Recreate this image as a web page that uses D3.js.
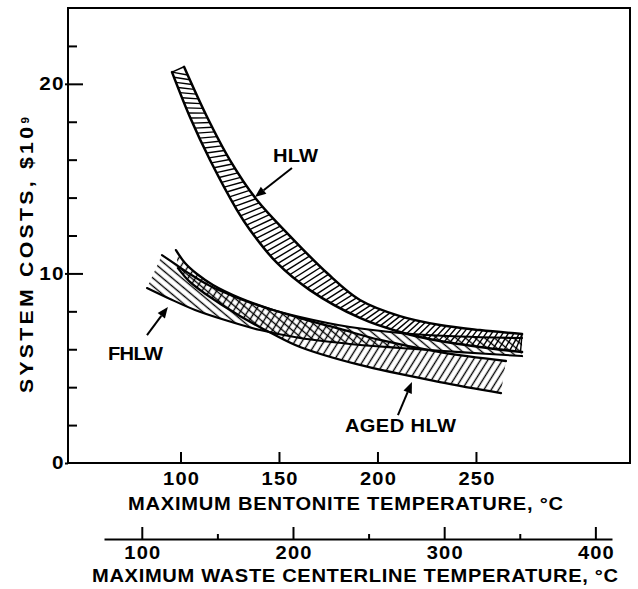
<!DOCTYPE html>
<html>
<head>
<meta charset="utf-8">
<script src="https://cdn.jsdelivr.net/npm/d3@7"></script>
<style>
  body { margin: 0; background: #fff; }
  svg { display: block; background: #fff; }
  text { font-family: "Liberation Sans", Arial, sans-serif; font-weight: bold; fill: #000; }
</style>
</head>
<body>
<svg id="chart" width="638" height="589"></svg>
<script>
// curves: bentonite temperature (°C) -> system cost ($10^9)
const hlwHighT = [101.8, 113.5, 125.1, 138.8, 155.6, 174.4, 191.1, 211.4, 231.7, 252.0, 273.4];
const hlwHigh  = [20.9, 18.25, 15.98, 13.87, 11.97, 10.02, 8.60, 7.75, 7.28, 7.01, 6.80];
const hlwLowT  = [95.7, 104.8, 115.0, 128.7, 135.3, 149.0, 165.7, 191.1, 211.4, 231.7, 252.0, 273.4];
const hlwLow   = [20.62, 18.25, 15.98, 13.34, 12.29, 10.55, 9.12, 7.65, 6.91, 6.43, 6.12, 5.85];

const fhlwHighT = [90.6, 97.2, 104.8, 115.0, 127.7, 145.4, 160.7, 186.0, 211.4, 241.9, 273.4];
const fhlwHigh  = [10.97, 10.50, 9.97, 9.34, 8.76, 8.12, 7.70, 7.17, 6.86, 6.67, 6.59];
const fhlwLowT  = [83.0, 94.7, 107.4, 122.6, 140.4, 160.7, 186.0, 211.4, 241.9, 273.4];
const fhlwLow   = [9.23, 8.65, 8.07, 7.54, 7.01, 6.59, 6.28, 6.07, 5.85, 5.64];

const agedHighT = [97.7, 102.3, 108.4, 116.5, 130.2, 147.0, 164.2, 181.0, 201.3, 231.7, 265.2];
const agedHigh  = [11.23, 10.55, 9.97, 9.39, 8.70, 8.07, 7.54, 7.07, 6.49, 5.85, 5.38];
const agedLowT  = [98.7, 104.8, 113.5, 130.2, 147.0, 160.7, 191.1, 231.7, 262.7];
const agedLow   = [10.28, 9.55, 8.86, 7.75, 6.80, 6.12, 5.17, 4.27, 3.69];

// axes
const yMajor = [0, 10, 20];
const yMinor = [2, 4, 6, 8, 12, 14, 16, 18, 22];
const xTicks = [100, 150, 200, 250];
const wasteMajor = [100, 200, 300, 400];
const wasteMinor = [150, 250, 350];

const yTitle = "SYSTEM COSTS, $10";
const xTitle = "MAXIMUM BENTONITE TEMPERATURE, °C";
const wasteTitle = "MAXIMUM WASTE CENTERLINE TEMPERATURE, °C";

const svg = d3.select("#chart");
const pLeft = 68, pRight = 630, pTop = 8, pBottom = 463;
const wide = 1.15;   // the original lettering is an extended face

const x = d3.scaleLinear().domain([42.9, 328.2]).range([pLeft, pRight]);
const y = d3.scaleLinear().domain([0, 24]).range([pBottom, pTop]);
const xWaste = d3.scaleLinear().domain([75, 411]).range([104, 612]);

const pts = (xs, ys) => xs.map((t, i) => [x(t), y(ys[i])]);
const line = d3.line().curve(d3.curveCatmullRom.alpha(0.5));

// hatch patterns
const defs = svg.append("defs");
function hatch(id, angle, gap) {
  defs.append("pattern")
    .attr("id", id)
    .attr("patternUnits", "userSpaceOnUse")
    .attr("width", gap).attr("height", gap)
    .attr("patternTransform", `rotate(${angle})`)
    .append("line")
    .attr("x1", gap / 2).attr("x2", gap / 2)
    .attr("y1", 0).attr("y2", gap)
    .attr("stroke", "#000").attr("stroke-width", 1.35);
}
hatch("hatchF", -50, 6.2);
hatch("hatchA", 32, 6.2);

const plot = svg.append("g");

function band(upper, lower, fill) {
  let d = line(upper) + line(lower.slice().reverse()).replace("M", "L") + "Z";
  plot.append("path").attr("d", d).attr("fill", fill).attr("stroke", "none");
}

const hlwU = pts(hlwHighT, hlwHigh), hlwL = pts(hlwLowT, hlwLow);
const fU = pts(fhlwHighT, fhlwHigh), fL = pts(fhlwLowT, fhlwLow);
const aU = pts(agedHighT, agedHigh), aL = pts(agedLowT, agedLow);

band(fU, fL, "url(#hatchF)");
band(aU, aL, "url(#hatchA)");

// HLW band uses ladder rungs between its two edges
const edges = plot.append("g");
const upPath = edges.append("path").attr("d", line(hlwU)).node();
const lowPath = edges.append("path").attr("d", line(hlwL)).node();
const Lu = upPath.getTotalLength(), Ll = lowPath.getTotalLength();
let rungs = [];
for (let s = 0; s <= Ll; s += 5.5) {
  let p1 = lowPath.getPointAtLength(s);
  let p2 = upPath.getPointAtLength(Math.min(Lu, s / Ll * Lu + 9));
  rungs.push([p1, p2]);
}
plot.selectAll(".rung").data(rungs).join("line")
  .attr("class", "rung")
  .attr("x1", d => d[0].x).attr("y1", d => d[0].y)
  .attr("x2", d => d[1].x).attr("y2", d => d[1].y)
  .attr("stroke", "#000").attr("stroke-width", 1.4);
plot.append("line")
  .attr("x1", hlwL[0][0]).attr("y1", hlwL[0][1])
  .attr("x2", hlwU[0][0]).attr("y2", hlwU[0][1])
  .attr("stroke", "#000").attr("stroke-width", 1.5);

// band edges
edges.selectAll("path").remove();
[[hlwU, 2.5], [hlwL, 2.5], [fU, 2.1], [fL, 2.1], [aU, 2.3], [aL, 2.3]].forEach(([p, w]) => {
  edges.append("path").attr("d", line(p))
    .attr("fill", "none").attr("stroke", "#000").attr("stroke-width", w)
    .attr("stroke-linecap", "round");
});
edges.raise();

// frame
svg.append("rect")
  .attr("x", pLeft).attr("y", pTop)
  .attr("width", pRight - pLeft).attr("height", pBottom - pTop)
  .attr("fill", "none").attr("stroke", "#000").attr("stroke-width", 2);

function styleAxis(g, size, ls) {
  g.attr("font-family", null).attr("font-size", null);
  g.selectAll("line").attr("stroke", "#000").attr("stroke-width", 2);
  g.selectAll("path").attr("stroke", "#000").attr("stroke-width", 2);
  g.selectAll("text").style("font-size", size + "px").attr("letter-spacing", ls)
    .attr("fill", "#000").attr("transform", `scale(${wide},1)`);
}

// y axis: labels outside, ticks inside
let yLab = svg.append("g").attr("transform", `translate(${pLeft},0)`)
  .call(d3.axisLeft(y).tickValues(yMajor).tickSize(3).tickPadding(1));
yLab.select(".domain").remove();
styleAxis(yLab, 18, 1);
yLab.selectAll("text").attr("dx", 1);

let yIn = svg.append("g").attr("transform", `translate(${pLeft},0)`)
  .call(d3.axisRight(y).tickValues([10, 20]).tickSize(15).tickFormat(""));
yIn.select(".domain").remove();
styleAxis(yIn, 10, 0);
let yIn2 = svg.append("g").attr("transform", `translate(${pLeft},0)`)
  .call(d3.axisRight(y).tickValues(yMinor).tickSize(9).tickFormat(""));
yIn2.select(".domain").remove();
styleAxis(yIn2, 10, 0);

// bentonite axis
let xAx = svg.append("g").attr("transform", `translate(0,${pBottom})`)
  .call(d3.axisBottom(x).tickValues(xTicks).tickSize(-11).tickPadding(10));
xAx.select(".domain").remove();
styleAxis(xAx, 17.5, 1);
xAx.selectAll("text").attr("dx", 0.5);

// waste centerline axis
const wy = 539;
let wAx = svg.append("g").attr("transform", `translate(0,${wy})`)
  .call(d3.axisBottom(xWaste).tickValues(wasteMajor).tickSize(-12).tickSizeOuter(0).tickPadding(8));
styleAxis(wAx, 17.5, 1);
wAx.selectAll("text").attr("dx", 0.5);
let wMin = svg.append("g").attr("transform", `translate(0,${wy})`)
  .call(d3.axisBottom(xWaste).tickValues(wasteMinor).tickSize(-5).tickFormat(""));
wMin.select(".domain").remove();
styleAxis(wMin, 10, 0);

// titles
function title(tx, ty, rot, len, size, str) {
  svg.append("text")
    .attr("transform", `translate(${tx},${ty}) rotate(${rot}) scale(${wide},1)`)
    .attr("textLength", len / wide).attr("lengthAdjust", "spacing")
    .style("font-size", size + "px").text(str);
}
title(128, 510, 0, 435, 17.5, xTitle);
title(92, 582, 0, 526, 17.5, wasteTitle);
title(33, 393, -90, 266, 18.5, yTitle);
svg.append("text").attr("transform", "translate(28.5,123.5) rotate(-90)")
  .style("font-size", "11.5px").text("9");

// curve labels and arrows (data coordinates)
const labels = [
  { text: "HLW", t: 147.0, c: 15.88, w: 45, from: [156.6, 15.56], to: [137.8, 14.03] },
  { text: "FHLW", t: 63.2, c: 5.43, w: 55, from: [83.0, 6.75], to: [93.6, 8.23] },
  { text: "AGED HLW", t: 183.5, c: 1.64, w: 111, from: [210.4, 2.53], to: [217.5, 4.27] }
];
labels.forEach(l => {
  svg.append("text")
    .attr("transform", `translate(${x(l.t)},${y(l.c)}) scale(${wide},1)`)
    .attr("textLength", l.w / wide).attr("lengthAdjust", "spacing")
    .style("font-size", "17.5px").text(l.text);
  let x1 = x(l.from[0]), y1 = y(l.from[1]), x2 = x(l.to[0]), y2 = y(l.to[1]);
  let a = Math.atan2(y2 - y1, x2 - x1), len = 11, hw = 4.5;
  let bx = x2 - len * Math.cos(a), by = y2 - len * Math.sin(a);
  svg.append("line").attr("x1", x1).attr("y1", y1).attr("x2", bx).attr("y2", by)
    .attr("stroke", "#000").attr("stroke-width", 2);
  svg.append("polygon")
    .attr("points", [[x2, y2],
      [bx + hw * Math.sin(a), by - hw * Math.cos(a)],
      [bx - hw * Math.sin(a), by + hw * Math.cos(a)]].map(p => p.join(",")).join(" "))
    .attr("fill", "#000");
});
</script>
</body>
</html>
